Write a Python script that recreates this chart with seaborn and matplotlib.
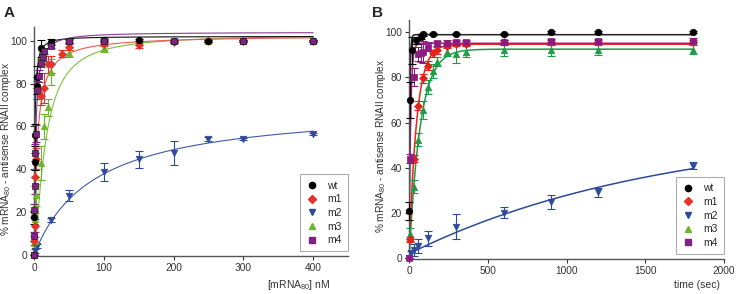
import numpy as np
import pandas as pd
import matplotlib
matplotlib.use("Agg")
import matplotlib.pyplot as plt
import seaborn as sns
from matplotlib.lines import Line2D

# series names / markers
labels = ["wt", "m1", "m2", "m3", "m4"]
markers = ["o", "D", "v", "^", "s"]
colors_a = ["#000000", "#e5322a", "#2c4a9c", "#6cb42c", "#7e2382"]
lines_a = ["#111111", "#ee5a52", "#3d5aa8", "#7cc040", "#8a3a90"]
colors_b = ["#000000", "#e3221b", "#2c4a9c", "#1e9b45", "#8c1a80"]
lines_b = ["#222222", "#e8241c", "#2c4a9c", "#1e9b45", "#b0157a"]

# panel A: % complex vs [mRNA80] (nM)
a_wt_x = [0, 0.5, 1, 2, 4, 5, 10, 25, 50, 100, 150, 200, 250, 300, 400]
a_wt_y = [0, 17.5, 43.5, 56, 79, 83, 96.5, 99.3, 99.8, 100.3, 100.3, 100, 100, 100, 100]
a_wt_err = [0, 3, 4, 5, 4, 5, 4, 1.5, 1, 0.5, 0.5, 0.5, 0.5, 0.5, 0.5]

a_m1_x = [0, 0.5, 1, 2, 3, 10, 15, 20, 25, 40, 50, 100, 150, 200, 250, 300, 400]
a_m1_y = [0, 6.7, 13.6, 36.3, 44.9, 74, 78, 89, 89, 94, 97, 98.5, 97.8, 99.5, 100, 100, 100]
a_m1_err = [0, 2, 3, 4, 5, 4, 7, 4, 4, 1.5, 1.5, 1, 1, 0.5, 0.5, 0.5, 0.5]

a_m2_x = [0, 2, 5, 25, 50, 100, 150, 200, 250, 300, 400]
a_m2_y = [0, 1.7, 4.3, 16.4, 27.6, 38.7, 44.7, 47.7, 54, 54, 56.5]
a_m2_err = [0, 1, 1, 1, 2.5, 4, 4, 5.5, 1, 0.5, 0.5]

a_m3_x = [0, 1, 2, 3, 10, 15, 20, 25, 50, 100, 200, 250, 300, 400]
a_m3_y = [0, 6.3, 16.8, 28, 43, 60, 69, 85.5, 94.4, 96.4, 99.7, 99.7, 100, 100]
a_m3_err = [0, 2, 3, 5, 8, 6, 4, 6, 2, 1.5, 1, 1, 0.5, 0.5]

a_m4_x = [0, 0.3, 0.6, 1, 1.5, 2.5, 5, 6.5, 10, 12.5, 15, 25, 50, 100, 200, 300, 400]
a_m4_y = [0, 8.7, 20.8, 32.4, 47.8, 56.5, 77, 83.5, 89.5, 92.5, 95.3, 97.5, 100, 100, 100, 100, 100]
a_m4_err = [0, 2, 3, 4, 4, 4, 4, 3, 2, 2, 1.5, 1, 0.5, 0.5, 0.5, 0.5, 0.5]

# fitted binding curves (Bmax, Kd, hill)
a_fit_bmax = [102, 102.5, 70, 103, 104]
a_fit_kd = [1.1, 4.5, 85, 16, 2.2]
a_fit_hill = [1.2, 1.0, 1.0, 1.4, 1.15]

# panel B: % complex vs time (sec)
b_wt_t = [2, 5, 20, 45, 75, 90, 150, 300, 600, 900, 1200, 1800]
b_wt_y = [21, 70, 92, 96.5, 98, 99, 99.2, 99.2, 99.2, 100, 100, 100]
b_wt_err = [4, 8, 6, 1.5, 1, 0.5, 0.5, 0.5, 0.5, 0.5, 0.5, 0.5]

b_m1_t = [5, 30, 60, 90, 120, 150, 180, 240, 300, 360, 600, 900, 1200, 1800]
b_m1_y = [8.4, 44, 67.4, 79.6, 85.2, 90.7, 92, 93.9, 95, 95, 95.5, 95.5, 95.5, 95.5]
b_m1_err = [1, 1.5, 2, 2, 2, 1.5, 1.5, 1, 1, 1, 1, 1, 1, 1]

b_m2_t = [0, 15, 30, 60, 120, 300, 600, 900, 1200, 1800]
b_m2_y = [0, 2.2, 3.7, 5.4, 8.8, 14, 20.2, 25, 29.2, 41]
b_m2_err = [0, 1, 2.5, 3, 3.5, 5.5, 2.5, 3, 2, 1.5]

b_m3_t = [5, 30, 60, 90, 120, 150, 180, 240, 300, 360, 600, 900, 1200, 1800]
b_m3_y = [10.6, 31.7, 52.5, 65.6, 75.7, 82.9, 87, 91.4, 90.5, 91.4, 92, 92, 92.3, 92.3]
b_m3_err = [3, 3, 3, 4, 3, 3, 2, 2, 4, 2.5, 2.5, 2.5, 2.5, 2]

b_m4_t = [0, 5, 30, 60, 75, 90, 120, 180, 240, 300, 360, 600, 900, 1200, 1800]
b_m4_y = [0, 44, 80, 90.3, 90.7, 91.2, 93.6, 95.1, 95.4, 95.5, 95.5, 95.6, 95.9, 96, 96.3]
b_m4_err = [0, 2, 4, 3, 4, 5, 2, 1, 1, 1, 1, 1, 1, 1, 1]

# fitted association curves: y0 + (plateau - y0) * (1 - exp(-k t))
b_fit_plateau = [98.9, 94.7, 58, 92.5, 95.1]
b_fit_k = [0.22, 0.021, 0.00062, 0.014, 0.1]
b_fit_y0 = [0, 0, 2, 0, 0]

sns.set_theme(style="ticks")
plt.rcParams["font.family"] = ["Liberation Sans", "DejaVu Sans"]
plt.rcParams["mathtext.default"] = "regular"

fig = plt.figure(figsize=(7.37, 2.94), dpi=100)
ax_a = fig.add_axes([34 / 737, 38 / 294, 314 / 737, 229 / 294])
ax_b = fig.add_axes([409 / 737, 35 / 294, 315 / 737, 239 / 294])

a_series = {
    "wt": (a_wt_x, a_wt_y, a_wt_err),
    "m1": (a_m1_x, a_m1_y, a_m1_err),
    "m2": (a_m2_x, a_m2_y, a_m2_err),
    "m3": (a_m3_x, a_m3_y, a_m3_err),
    "m4": (a_m4_x, a_m4_y, a_m4_err),
}
b_series = {
    "wt": (b_wt_t, b_wt_y, b_wt_err),
    "m1": (b_m1_t, b_m1_y, b_m1_err),
    "m2": (b_m2_t, b_m2_y, b_m2_err),
    "m3": (b_m3_t, b_m3_y, b_m3_err),
    "m4": (b_m4_t, b_m4_y, b_m4_err),
}

xa = np.concatenate([np.linspace(0, 30, 600), np.linspace(30, 400, 400)])
xb = np.concatenate([np.linspace(0, 200, 800), np.linspace(200, 1800, 400)])

draw_order_a = ["m2", "m3", "m1", "wt", "m4"]
draw_order_b = ["m2", "m3", "m1", "m4", "wt"]


def draw_points(ax, x, y, err, i, colors, edge):
    ax.errorbar(x, y, yerr=err, fmt="none", ecolor=colors[i], elinewidth=0.8,
                capsize=3, capthick=0.8, clip_on=False, zorder=3)
    sns.scatterplot(x=x, y=y, ax=ax, marker=markers[i], color=colors[i],
                    s=22 if markers[i] != "D" else 16, edgecolor=edge,
                    linewidth=0.5, clip_on=False, zorder=4, legend=False)


for lab in draw_order_a:
    i = labels.index(lab)
    fit = a_fit_bmax[i] * xa ** a_fit_hill[i] / (a_fit_kd[i] ** a_fit_hill[i] + xa ** a_fit_hill[i])
    sns.lineplot(x=xa, y=fit, ax=ax_a, color=lines_a[i], linewidth=0.8, zorder=2)
    x, y, err = a_series[lab]
    edge = "#222222" if lab == "m4" else colors_a[i]
    draw_points(ax_a, x, y, err, i, colors_a, edge)

for lab in draw_order_b:
    i = labels.index(lab)
    fit = b_fit_y0[i] + (b_fit_plateau[i] - b_fit_y0[i]) * (1 - np.exp(-b_fit_k[i] * xb))
    sns.lineplot(x=xb, y=fit, ax=ax_b, color=lines_b[i], linewidth=1.1, zorder=2)
    x, y, err = b_series[lab]
    draw_points(ax_b, x, y, err, i, colors_b, colors_b[i])

ax_a.set_xlim(0, 450)
ax_a.set_ylim(-0.5, 106.4)
ax_a.set_xticks([0, 100, 200, 300, 400])
ax_b.set_xlim(0, 2000)
ax_b.set_ylim(-0.3, 105.4)
ax_b.set_xticks([0, 500, 1000, 1500, 2000])

ylab = "% mRNA$_{80}$ - antisense RNAII complex"
for ax in (ax_a, ax_b):
    ax.set_yticks([0, 20, 40, 60, 80, 100])
    sns.despine(ax=ax)
    for s in ("left", "bottom"):
        ax.spines[s].set_color("#555555")
        ax.spines[s].set_linewidth(1.0)
    ax.tick_params(labelsize=7.3, colors="#333333", length=3, width=0.8, pad=2)
    ax.set_xlabel("")
    ax.set_ylabel(ylab, fontsize=7.3, color="#333333")

ax_a.yaxis.set_label_coords(-0.066, 0.467)
ax_b.yaxis.set_label_coords(-0.066, 0.473)

fig.text(330 / 737, 9 / 294, "[mRNA$_{80}$] nM", ha="right", va="center",
         fontsize=7.5, color="#333333")
fig.text(720 / 737, 9 / 294, "time (sec)", ha="right", va="center",
         fontsize=7.5, color="#333333")
fig.text(4 / 737, 1 - 6 / 294, "A", ha="left", va="top", fontsize=11, weight="bold")
fig.text(372 / 737, 1 - 6 / 294, "B", ha="left", va="top", fontsize=11, weight="bold")

for ax in (ax_a, ax_b):
    handles = [Line2D([], [], linestyle="none", marker=markers[i], color=colors_a[i],
                      markersize=4.5 if markers[i] != "D" else 4,
                      markeredgecolor=colors_a[i]) for i in range(len(labels))]
    leg = ax.legend(handles, labels, loc="lower right", bbox_to_anchor=(1.0, 0.02),
                    fontsize=7.5, frameon=True, fancybox=False, edgecolor="#999999",
                    borderaxespad=0, handlelength=1.0, handletextpad=1.0,
                    labelspacing=0.35, borderpad=0.6)
    leg.get_frame().set_linewidth(0.8)

fig.savefig("out.png", dpi=100)
